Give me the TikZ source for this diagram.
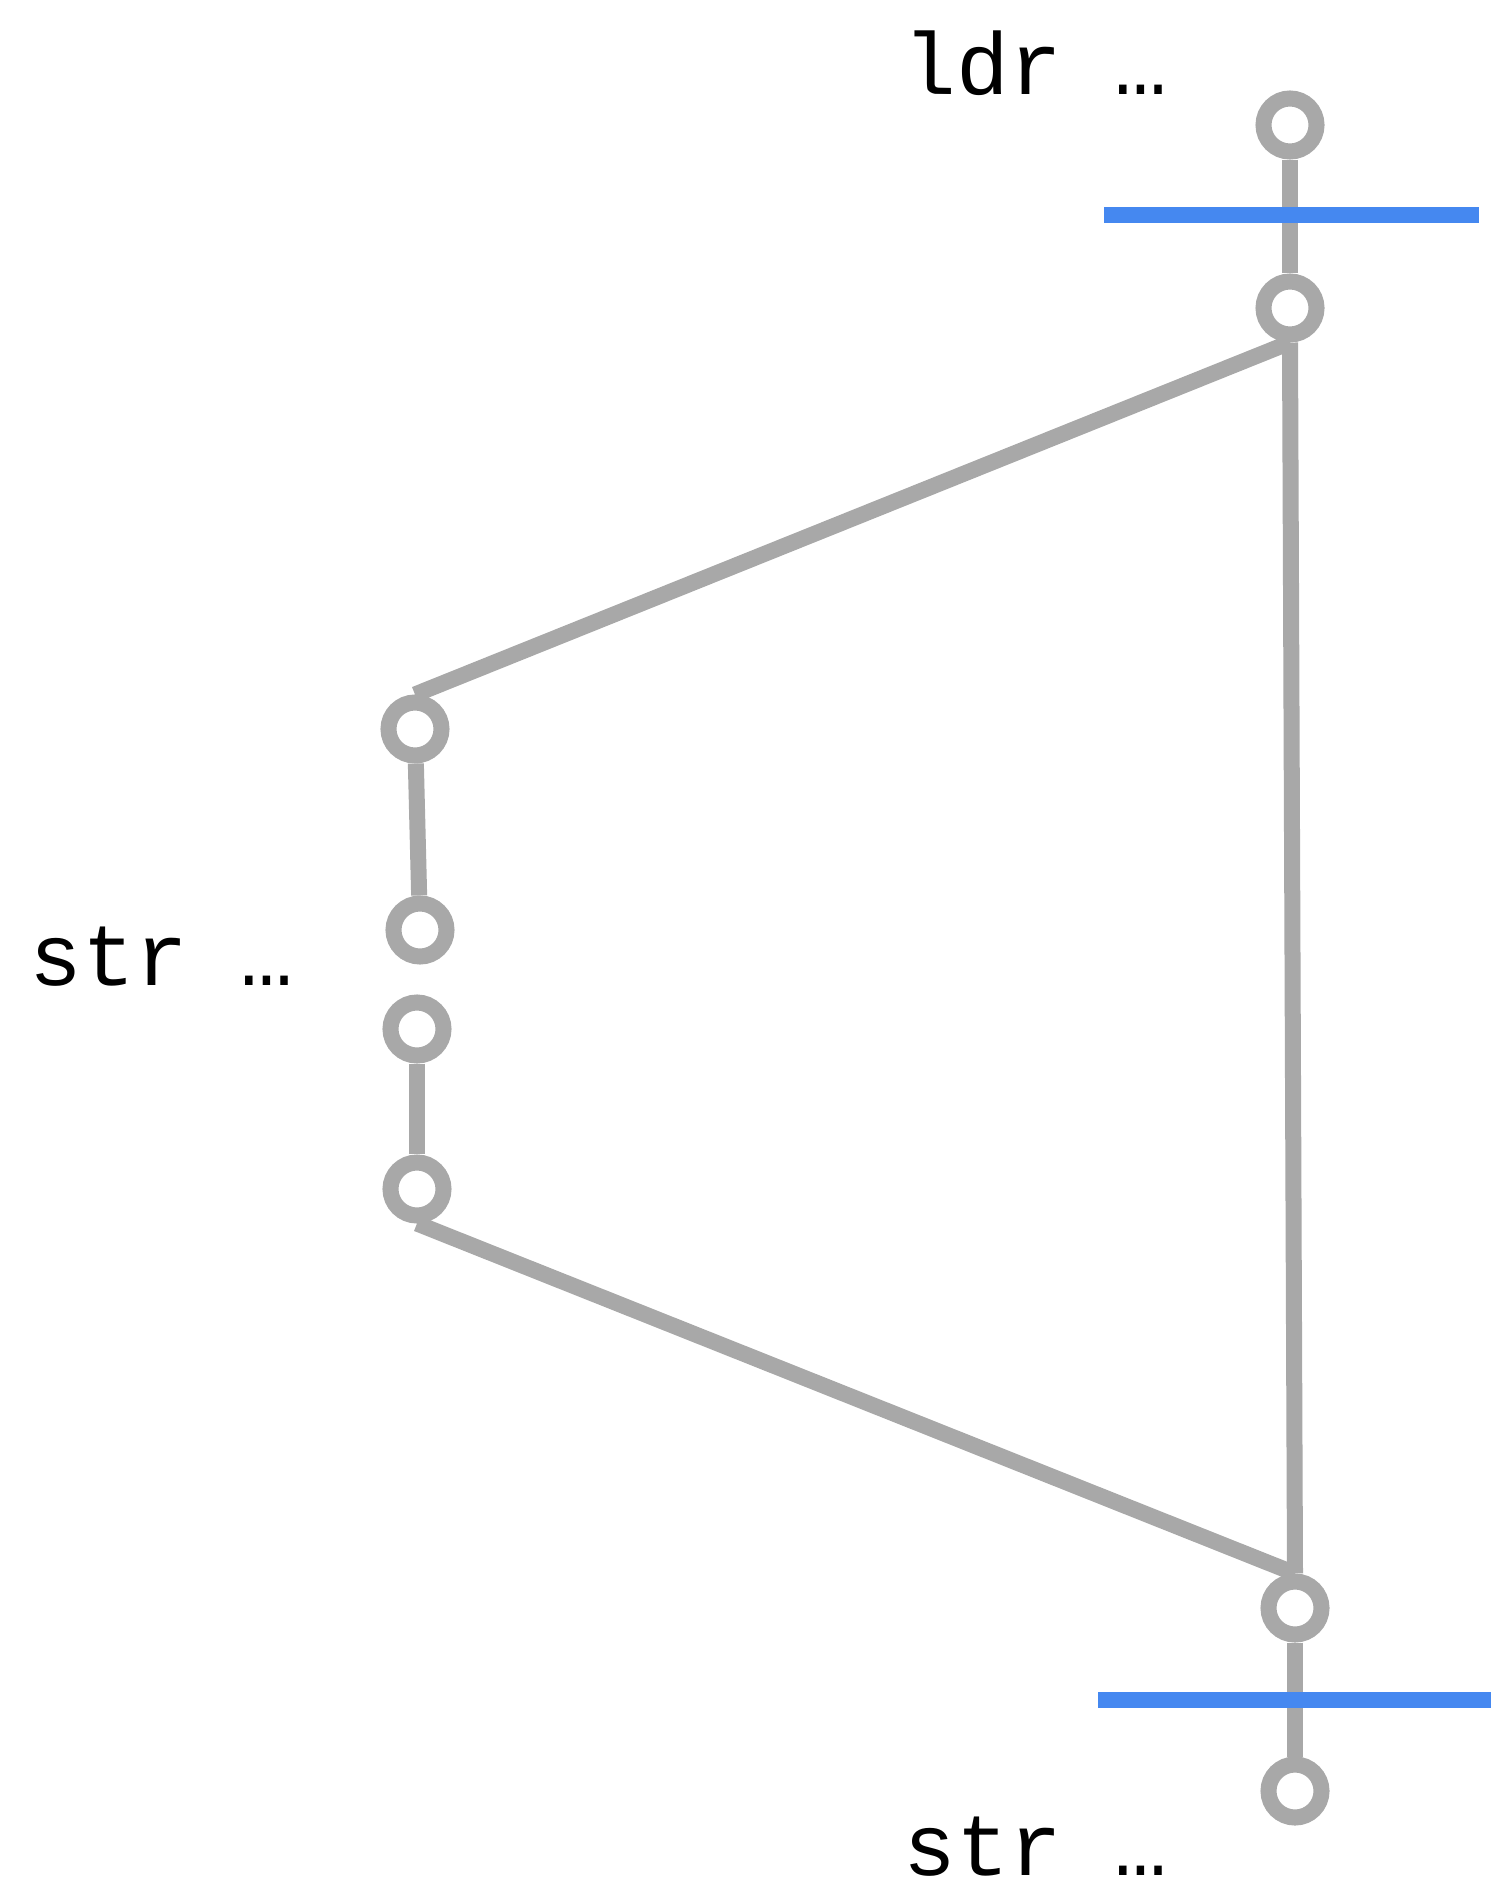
\documentclass[tikz,border=0pt]{standalone}
\usepackage{fontspec}
\setmonofont{Liberation Mono}
\definecolor{edgegray}{RGB}{168,168,168}
\definecolor{cutblue}{RGB}{69,136,240}
\begin{document}
\begin{tikzpicture}[x=0.01cm, y=-0.01cm,
  commit/.style={circle, draw=edgegray, fill=white, line width=0.16cm, minimum size=0.53cm, inner sep=0pt},
  link/.style={draw=edgegray, line width=0.16cm},
  cut/.style={draw=cutblue, line width=0.16cm},
  lbl/.style={font=\ttfamily\fontsize{25}{30}\selectfont, anchor=base west, inner sep=0pt}
]
\useasboundingbox (0,0) rectangle (1496,1903);
% right column
\node[commit] (t1) at (1290,125) {};
\node[commit] (t2) at (1290,308) {};
\node[commit] (b1) at (1295,1608) {};
\node[commit] (b2) at (1295,1791) {};
% left column
\node[commit] (s1) at (415,729) {};
\node[commit] (s2) at (420,930) {};
\node[commit] (s3) at (417,1029) {};
\node[commit] (s4) at (417,1189) {};
% links
\draw[link] (t1) -- (t2);
\draw[link] (t2.south) -- (s1.north);
\draw[link] (t2.south) -- (b1.north);
\draw[link] (s1) -- (s2);
\draw[link] (s3) -- (s4);
\draw[link] (s4.south) -- (b1.north);
\draw[link] (b1) -- (b2);
% cuts
\draw[cut] (1104,215) -- (1479,215);
\draw[cut] (1098,1700) -- (1491,1700);
% labels
\node[lbl] (ldr) at (903,95) {ldr …};
\node[lbl] (strl) at (29,985) {str …};
\node[lbl] (strb) at (903,1875) {str …};
\end{tikzpicture}
\end{document}
